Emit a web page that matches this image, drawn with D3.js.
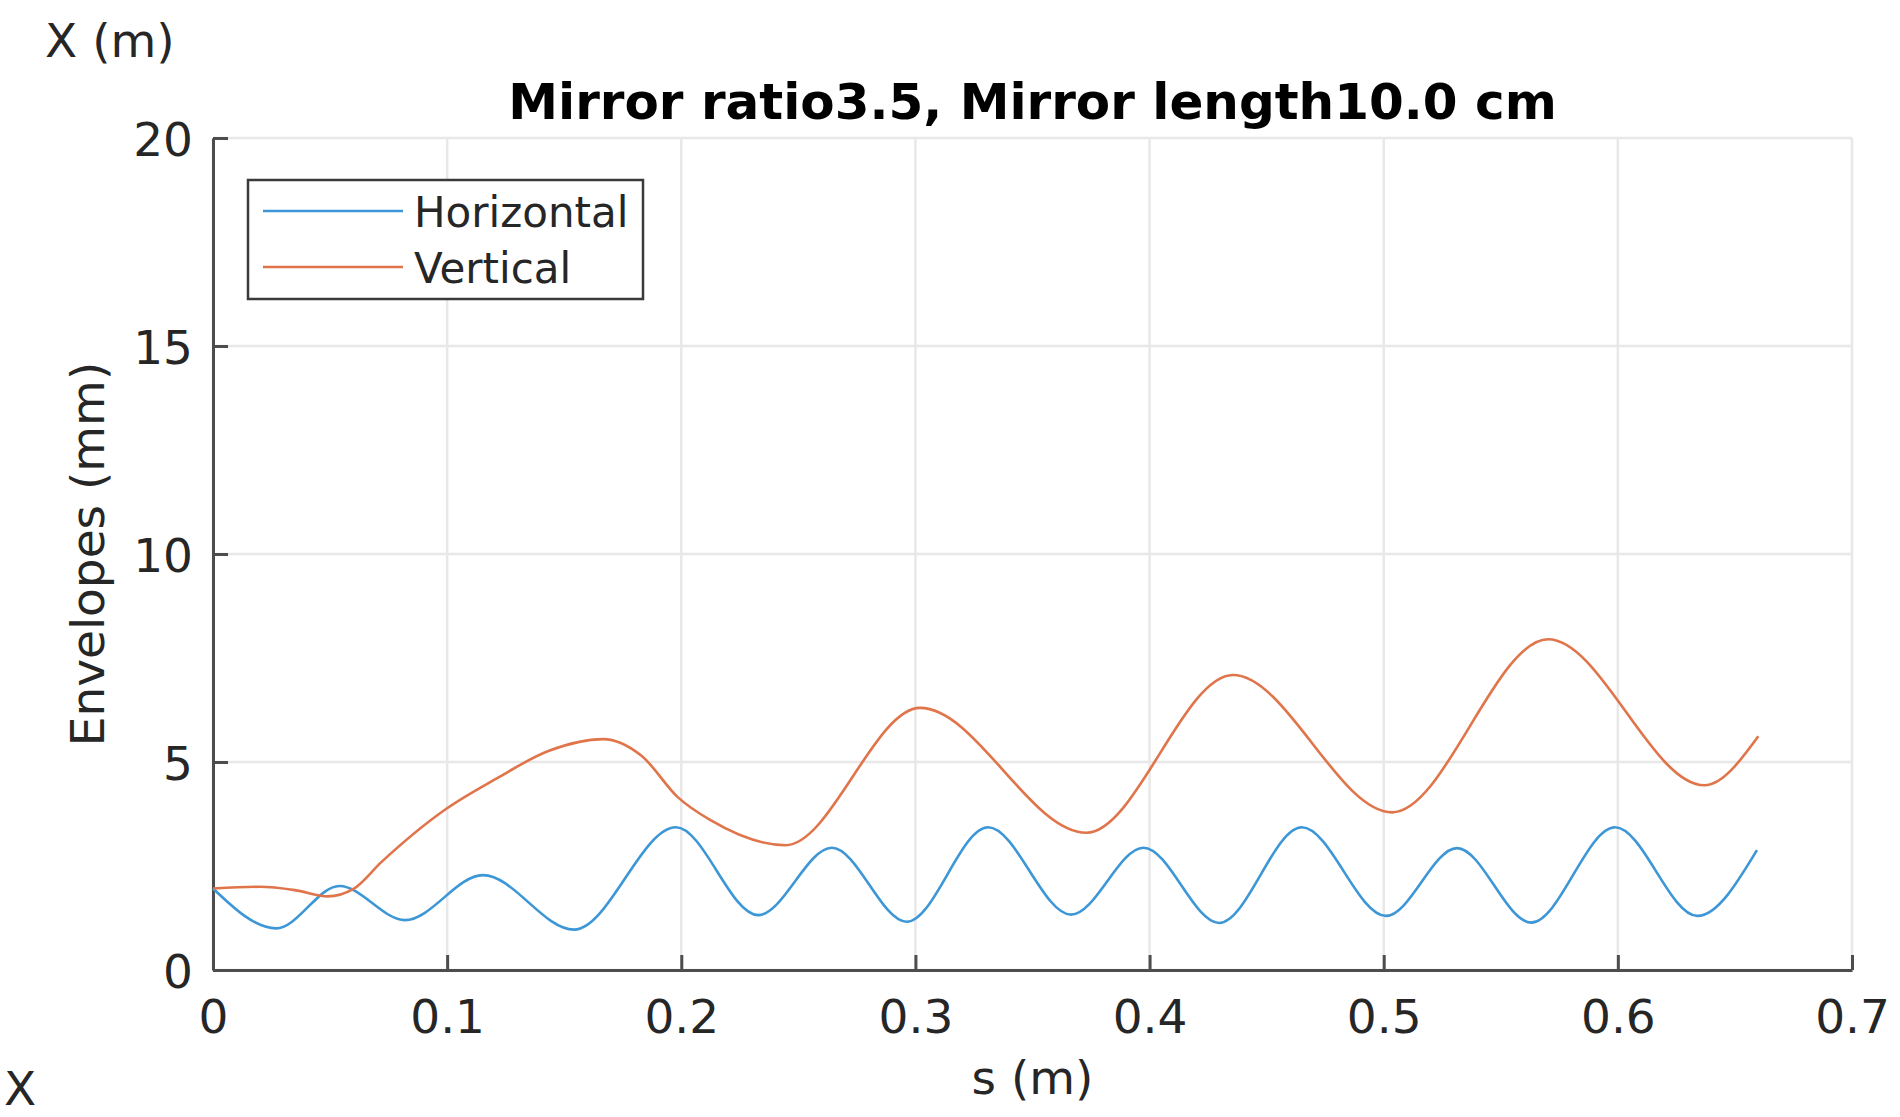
<!DOCTYPE html>
<html>
<head>
<meta charset="utf-8">
<script src="https://cdn.jsdelivr.net/npm/d3@7"></script>
<style>
  html, body { margin: 0; padding: 0; background: #fff; }
  svg text { font-family: "DejaVu Sans", sans-serif; fill: #262626; }
</style>
</head>
<body>
<svg id="chart" width="1900" height="1117"></svg>
<script>
// Beam envelopes along the beamline (s in metres, envelope in mm)
const sHorizontal = [0, 0.027, 0.054, 0.082, 0.1153, 0.1542, 0.1977, 0.2328, 0.2643, 0.2963,
  0.331, 0.3665, 0.3974, 0.4297, 0.465, 0.501, 0.5313, 0.563, 0.5988, 0.634, 0.6594];
const horizontal = [1.96, 1.0, 2.02, 1.2, 2.28, 0.97, 3.43, 1.32, 2.94, 1.16,
  3.43, 1.33, 2.94, 1.13, 3.43, 1.30, 2.93, 1.14, 3.43, 1.30, 2.88];

const sVertical = [0, 0.020, 0.035, 0.049, 0.060, 0.072, 0.0995, 0.121, 0.1435, 0.1666,
  0.183, 0.1986, 0.2125, 0.2445, 0.302, 0.373, 0.4356, 0.5036, 0.5702, 0.637, 0.660];
const vertical = [1.96, 2.0, 1.92, 1.77, 1.95, 2.6, 3.87, 4.6, 5.27, 5.55,
  5.15, 4.15, 3.6, 3.0, 6.3, 3.3, 7.09, 3.79, 7.95, 4.44, 5.62];

const seriesNames = ["Horizontal", "Vertical"];
const seriesColors = ["#3d97d6", "#e0744a"];
const xTicks = [0, 0.1, 0.2, 0.3, 0.4, 0.5, 0.6, 0.7];
const yTicks = [0, 5, 10, 15, 20];

const titleText = "Mirror ratio3.5, Mirror length10.0 cm";
const xLabel = "s (m)";
const yLabel = "Envelopes (mm)";
const cornerLabel = "X (m)";

const svg = d3.select("#chart");
const plotLeft = 213, plotRight = 1852, plotTop = 138, plotBottom = 970;

const x = d3.scaleLinear().domain([0, 0.7]).range([plotLeft, plotRight]);
const y = d3.scaleLinear().domain([0, 20]).range([plotBottom, plotTop]);

// grid
const grid = svg.append("g").attr("stroke", "#e8e8e8").attr("stroke-width", 2.5);
grid.selectAll("line.v").data(xTicks).join("line").attr("class", "v")
  .attr("x1", d => x(d)).attr("x2", d => x(d)).attr("y1", plotTop).attr("y2", plotBottom);
grid.selectAll("line.h").data(yTicks).join("line").attr("class", "h")
  .attr("x1", plotLeft).attr("x2", plotRight).attr("y1", d => y(d)).attr("y2", d => y(d));

// axes (ticks pointing inward)
const axisColor = "#4d4d4d";
const xAxis = svg.append("g").attr("transform", `translate(0,${plotBottom})`)
  .call(d3.axisBottom(x).tickValues(xTicks).tickSizeInner(-15).tickSizeOuter(0)
    .tickPadding(0).tickFormat(d => d === 0 ? "0" : d3.format(".1f")(d)));
xAxis.select(".domain").attr("stroke", axisColor).attr("stroke-width", 3);
xAxis.selectAll(".tick line").attr("stroke", axisColor).attr("stroke-width", 3);
xAxis.selectAll(".tick text").attr("font-size", 47).attr("y", 63)
  .attr("dy", 0).attr("fill", "#262626").attr("font-family", "DejaVu Sans");

const yAxis = svg.append("g").attr("transform", `translate(${plotLeft},0)`)
  .call(d3.axisLeft(y).tickValues(yTicks).tickSizeInner(-15).tickSizeOuter(0)
    .tickPadding(0));
yAxis.select(".domain").attr("stroke", axisColor).attr("stroke-width", 3);
yAxis.selectAll(".tick line").attr("stroke", axisColor).attr("stroke-width", 3);
yAxis.selectAll(".tick text").attr("font-size", 47).attr("x", -20)
  .attr("dy", 17).attr("fill", "#262626").attr("font-family", "DejaVu Sans");

// envelope curves
const line = d3.line().curve(d3.curveMonotoneX).x(d => x(d[0])).y(d => y(d[1]));
const hData = sHorizontal.map((s, i) => [s, horizontal[i]]);
const vData = sVertical.map((s, i) => [s, vertical[i]]);
[hData, vData].forEach((data, i) => {
  svg.append("path").datum(data).attr("d", line)
    .attr("fill", "none").attr("stroke", seriesColors[i]).attr("stroke-width", 2.6)
    .attr("stroke-linejoin", "round");
});

// title and labels
svg.append("text").attr("x", (plotLeft + plotRight) / 2).attr("y", 119)
  .attr("text-anchor", "middle").attr("font-size", 50).attr("font-weight", "bold")
  .style("fill", "#000").text(titleText);
svg.append("text").attr("x", (plotLeft + plotRight) / 2).attr("y", 1094)
  .attr("text-anchor", "middle").attr("font-size", 47).text(xLabel);
svg.append("text").attr("transform", `translate(104,${(plotTop + plotBottom) / 2}) rotate(-90)`)
  .attr("text-anchor", "middle").attr("font-size", 47).text(yLabel);
svg.append("text").attr("x", 45).attr("y", 57).attr("font-size", 47).text(cornerLabel);
svg.append("text").attr("x", 4).attr("y", 1105).attr("font-size", 47).text("X");

// legend
const legend = svg.append("g");
legend.append("rect").attr("x", 248).attr("y", 180).attr("width", 395).attr("height", 119)
  .attr("fill", "#fff").attr("stroke", "#3a3a3a").attr("stroke-width", 2.5);
const legendRows = [211, 267];
seriesNames.forEach((name, i) => {
  legend.append("line").attr("x1", 263).attr("x2", 403)
    .attr("y1", legendRows[i]).attr("y2", legendRows[i])
    .attr("stroke", seriesColors[i]).attr("stroke-width", 2.6);
  legend.append("text").attr("x", 414).attr("y", legendRows[i] + 16)
    .attr("font-size", 42).text(name);
});
</script>
</body>
</html>
